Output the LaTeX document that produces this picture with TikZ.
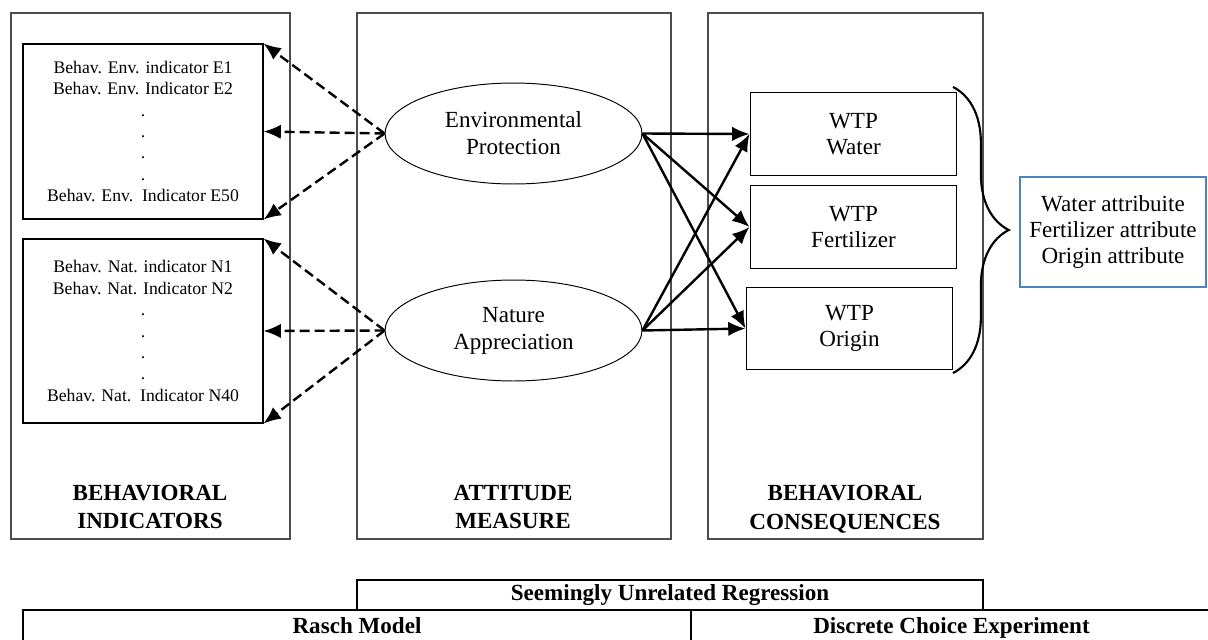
\documentclass[tikz,border=0pt]{standalone}
\usepackage{fontspec}
\setmainfont{Liberation Serif}
\usepackage{xcolor}
\usetikzlibrary{shapes.geometric,arrows.meta,decorations.pathreplacing}
\definecolor{attrblue}{RGB}{79,129,189}

\begin{document}
\begin{tikzpicture}[x=0.52pt, y=-0.52pt,
            frame/.style={draw=black!70, line width=0.6pt},
            indbox/.style={draw, line width=0.55pt, inner sep=0pt, minimum width=124.8pt, align=center, font=\fontsize{9.2}{11.1}\selectfont},
            latent/.style={ellipse, draw, line width=0.5pt, inner sep=0pt, minimum width=133.6pt, minimum height=52.5pt, align=center, font=\fontsize{12}{14}\selectfont},
            wtpbox/.style={draw, line width=0.55pt, inner sep=0pt, minimum width=107.6pt, minimum height=43pt, align=center, font=\fontsize{12}{13.5}\selectfont},
            coltitle/.style={align=center, font=\fontsize{12}{15}\selectfont\bfseries},
            tabcell/.style={draw, line width=0.6pt, inner sep=0pt, text height=8.4pt, text depth=2.6pt, font=\fontsize{12}{14}\selectfont\bfseries},
            dasharr/.style={line width=1.25pt, dash pattern=on 5.2pt off 2.6pt, -{Latex[length=9pt,width=7.5pt]}},
            solidarr/.style={line width=1.25pt, -{Latex[length=9pt,width=7.5pt]}}]
            \clip (0,0) rectangle (1208,640);

            \draw[frame] (11,13) rectangle (290,539);
            \draw[frame] (357,13) rectangle (671,539);
            \draw[frame] (708,13) rectangle (983,539);

            \node[indbox, minimum height=91pt] (envind) at (143,131.5) {Behav. Env. indicator E1\\Behav. Env. Indicator E2\\.\\.\\.\\.\\Behav. Env.\ \ Indicator E50};
            \node[indbox, minimum height=95.7pt] (natind) at (143,331) {Behav. Nat. indicator N1\\Behav. Nat. Indicator N2\\.\\.\\.\\.\\Behav. Nat.\ \ Indicator N40};

            \node[latent] (envprot) at (513.5,133.5) {Environmental\\Protection};
            \node[latent] (natapp) at (513.5,330.5) {Nature\\Appreciation};

            \node[wtpbox] (water) at (853.5,134) {WTP\\Water};
            \node[wtpbox] (fert) at (853.5,227) {WTP\\Fertilizer};
            \node[wtpbox] (origin) at (849.5,328.5) {WTP\\Origin};

            \node[draw=attrblue, line width=0.6pt, inner sep=0pt, minimum width=96.7pt, minimum height=57.2pt, align=center, font=\fontsize{12}{13.3}\selectfont] (attr) at (1113,232) {Water attribuite\\Fertilizer attribute\\Origin attribute};

            \node[coltitle] (indtitle) at (150,507) {BEHAVIORAL\\INDICATORS};
            \node[coltitle] (atttitle) at (513,507) {ATTITUDE\\MEASURE};
            \node[coltitle] (contitle) at (845,509) {BEHAVIORAL\\CONSEQUENCES};

            \foreach \a in {north east, east, south east} {
                \draw[dasharr] (envprot.west) -- (envind.\a);
                \draw[dasharr] (natapp.west) -- (natind.\a);
            }
            \foreach \s in {envprot, natapp}
                \foreach \t in {water, fert, origin}
                    \draw[solidarr] (\s.east) -- (\t.west);

            \coordinate (bracetop) at (953,87);
            \coordinate (bracebot) at (953,373);
            \draw[line width=1.1pt, decorate, decoration={brace, amplitude=29pt, aspect=0.5}] (bracetop) -- (bracebot);

            \node[tabcell, minimum width=325.5pt, minimum height=15.6pt] (sur) at (670,595) {Seemingly Unrelated Regression};
            \node[tabcell, minimum width=347.4pt, minimum height=18.2pt] (rasch) at (357,627.5) {Rasch Model};
            \node[tabcell, minimum width=270.9pt, minimum height=18.2pt] (dce) at (951.5,627.5) {Discrete Choice Experiment};
        \end{tikzpicture}
\end{document}
